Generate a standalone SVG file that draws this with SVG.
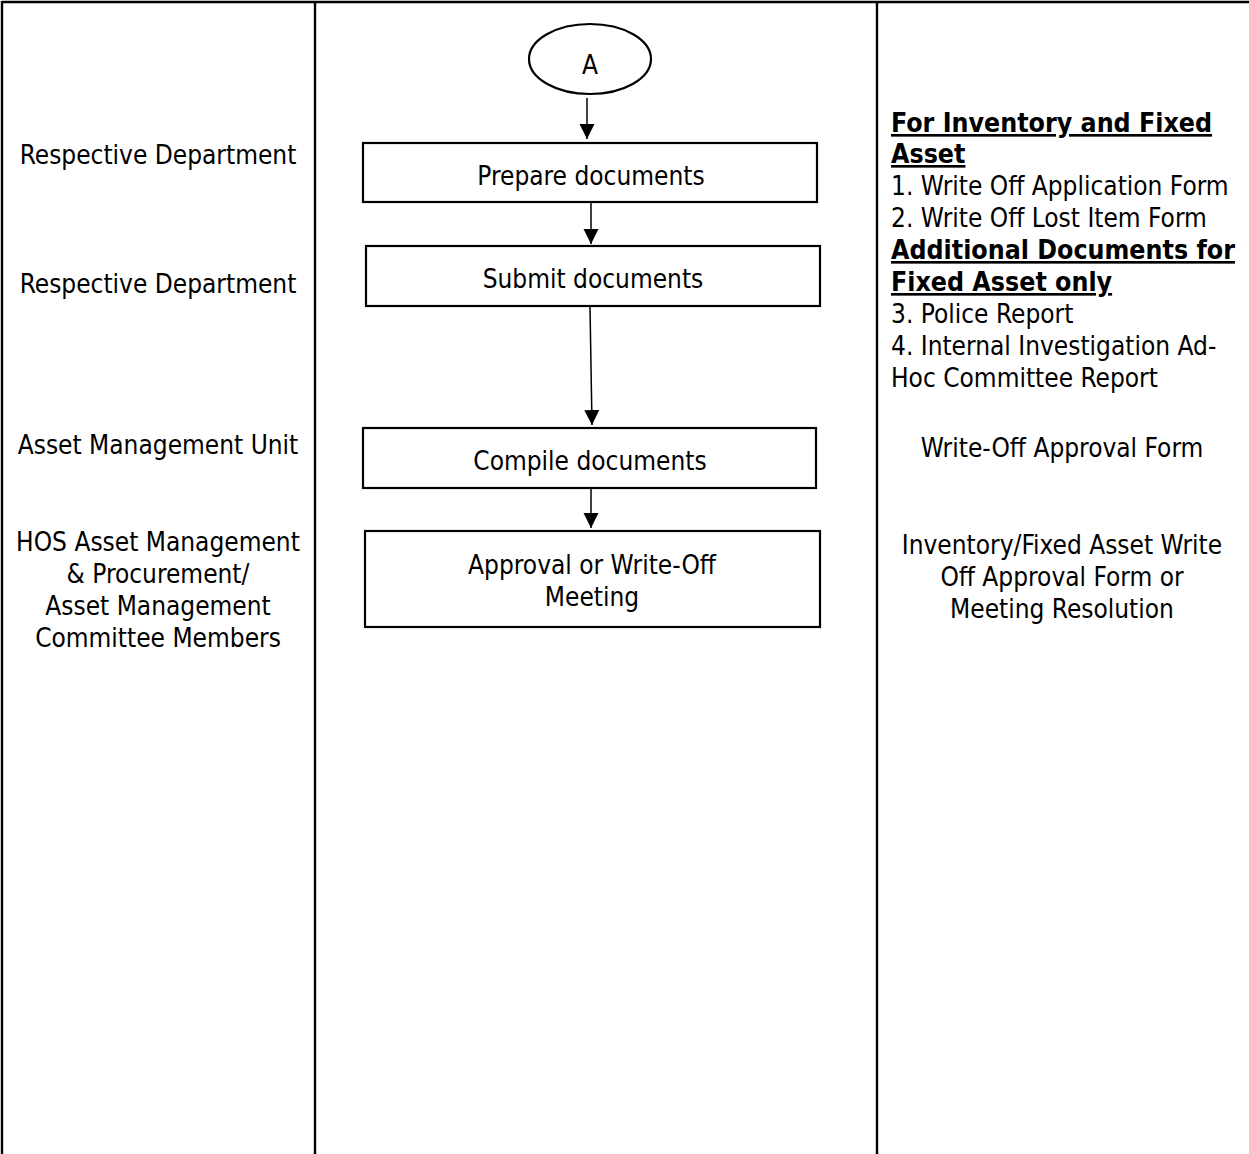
<svg xmlns="http://www.w3.org/2000/svg" width="1249" height="1154" viewBox="0 0 1249 1154">
<style>
.lane{stroke:#000;stroke-width:2.4;fill:none}
.box{fill:#fff;stroke:#000;stroke-width:2.2}
.t{font-family:"DejaVu Sans Condensed","DejaVu Sans",sans-serif;font-size:26px;fill:#000}
.c{text-anchor:middle}
.b{font-weight:bold;text-decoration:underline;font-size:26.5px}
.con{stroke:#000;stroke-width:1.5;fill:none;marker-end:url(#ah)}
</style>
<defs>
<marker id="ah" markerUnits="userSpaceOnUse" markerWidth="16" markerHeight="16" refX="15" refY="7.5" orient="auto">
<path d="M0,0 L15,7.5 L0,15 Z" fill="#000"/>
</marker>
</defs>
<rect width="1249" height="1154" fill="#fff"/>
<g id="lanes">
<line class="lane" x1="2" y1="2" x2="1249" y2="2"/>
<line class="lane" x1="2" y1="1" x2="2" y2="1154"/>
<line class="lane" x1="315" y1="1" x2="315" y2="1154"/>
<line class="lane" x1="877" y1="1" x2="877" y2="1154"/>
</g>
<g id="roles">
<text class="t c" x="158" y="164">Respective Department</text>
<text class="t c" x="158" y="293">Respective Department</text>
<text class="t c" x="158" y="454">Asset Management Unit</text>
<text class="t c" x="158" y="551">HOS Asset Management</text>
<text class="t c" x="158" y="583">&amp; Procurement/</text>
<text class="t c" x="158" y="615">Asset Management</text>
<text class="t c" x="158" y="647">Committee Members</text>
</g>
<g id="connectors">
<line class="con" x1="587" y1="98" x2="587" y2="139"/>
<line class="con" x1="591" y1="203" x2="591" y2="244"/>
<line class="con" x1="590" y1="307" x2="592" y2="425"/>
<line class="con" x1="591" y1="489" x2="591" y2="528"/>
</g>
<g id="nodeA">
<ellipse cx="590" cy="59" rx="61" ry="35" fill="#fff" stroke="#000" stroke-width="2.2"/>
<text class="t c" x="590" y="74">A</text>
</g>
<g id="prepare">
<rect class="box" x="363" y="143" width="454" height="59"/>
<text class="t c" x="591" y="185">Prepare documents</text>
</g>
<g id="submit">
<rect class="box" x="366" y="246" width="454" height="60"/>
<text class="t c" x="593" y="288">Submit documents</text>
</g>
<g id="compile">
<rect class="box" x="363" y="428" width="453" height="60"/>
<text class="t c" x="590" y="470">Compile documents</text>
</g>
<g id="approval">
<rect class="box" x="365" y="531" width="455" height="96"/>
<text class="t c" x="592" y="574">Approval or Write-Off</text>
<text class="t c" x="592" y="606">Meeting</text>
</g>
<g id="docs">
<text class="t b" x="891" y="132">For Inventory and Fixed</text>
<text class="t b" x="891" y="163">Asset</text>
<text class="t" x="891" y="195">1. Write Off Application Form</text>
<text class="t" x="891" y="227">2. Write Off Lost Item Form</text>
<text class="t b" x="891" y="259">Additional Documents for</text>
<text class="t b" x="891" y="291">Fixed Asset only</text>
<text class="t" x="891" y="323">3. Police Report</text>
<text class="t" x="891" y="355">4. Internal Investigation Ad-</text>
<text class="t" x="891" y="387">Hoc Committee Report</text>
<text class="t c" x="1062" y="457">Write-Off Approval Form</text>
<text class="t c" x="1062" y="554">Inventory/Fixed Asset Write</text>
<text class="t c" x="1062" y="586">Off Approval Form or</text>
<text class="t c" x="1062" y="618">Meeting Resolution</text>
</g>
</svg>
